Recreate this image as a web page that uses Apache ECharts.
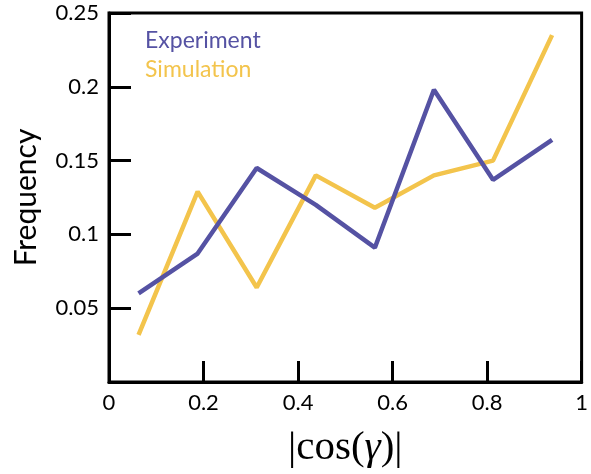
<!DOCTYPE html>
<html>
<head>
<meta charset="utf-8">
<script src="https://cdn.jsdelivr.net/npm/echarts@6/dist/echarts.min.js"></script>
<style>
  html, body { margin: 0; padding: 0; background: #fff; }
  #chart { width: 591px; height: 474px; }
</style>
</head>
<body>
<div id="chart"></div>
<script>
// bin centres of |cos(gamma)|
var binCenters = [0.0625, 0.1875, 0.3125, 0.4375, 0.5625, 0.6875, 0.8125, 0.9375];
var experiment = [0.060, 0.087, 0.145, 0.120, 0.091, 0.198, 0.137, 0.164];
var simulation = [0.032, 0.129, 0.064, 0.140, 0.118, 0.140, 0.150, 0.235];

var blue = '#5552a3';
var yellow = '#f3c44c';

function pairs(ys) {
  return binCenters.map(function (x, i) {
    return [x, ys[i]];
  });
}

var chart = echarts.init(document.getElementById('chart'));
var option = {
  backgroundColor: '#fff',
  animation: false,
  grid: {
    left: 109,
    right: 5,
    top: 13,
    bottom: 87,
    show: true,
    borderColor: '#000',
    borderWidth: 3
  },
  legend: {
    orient: 'vertical',
    left: 140,
    top: 29,
    padding: 0,
    itemGap: 6,
    itemWidth: 0,
    itemHeight: 0,
    icon: 'none',
    textStyle: { fontFamily: 'Lato', fontSize: 23 },
    data: [
      { name: 'Experiment', textStyle: { color: blue } },
      { name: 'Simulation', textStyle: { color: yellow } }
    ]
  },
  xAxis: {
    type: 'value',
    min: 0,
    max: 1,
    interval: 0.2,
    name: '|cos({i|γ})|',
    nameLocation: 'middle',
    nameGap: 46,
    nameTextStyle: {
      fontFamily: 'Liberation Serif',
      fontSize: 41,
      color: '#000',
      rich: {
        i: { fontFamily: 'Liberation Serif', fontStyle: 'italic', fontSize: 41, color: '#000' }
      }
    },
    splitLine: { show: false },
    axisLine: { lineStyle: { color: '#000', width: 3 } },
    axisTick: { inside: true, length: 21, lineStyle: { color: '#000', width: 3 } },
    axisLabel: {
      margin: 10,
      color: '#000',
      fontFamily: 'Lato',
      fontSize: 22,
      formatter: function (v) { return String(+v.toFixed(1)); }
    }
  },
  yAxis: {
    type: 'value',
    min: 0,
    max: 0.25,
    interval: 0.05,
    name: 'Frequency',
    nameLocation: 'middle',
    nameGap: 68,
    nameTextStyle: { fontFamily: 'Lato', fontSize: 30, color: '#000' },
    splitLine: { show: false },
    axisLine: { lineStyle: { color: '#000', width: 3 } },
    axisTick: { inside: true, length: 22, lineStyle: { color: '#000', width: 3 } },
    axisLabel: {
      margin: 10,
      showMinLabel: false,
      color: '#000',
      fontFamily: 'Lato',
      fontSize: 22,
      formatter: function (v) { return String(+v.toFixed(2)); }
    }
  },
  series: [
    {
      name: 'Simulation',
      type: 'line',
      data: pairs(simulation),
      showSymbol: false,
      symbol: 'none',
      color: yellow,
      lineStyle: { color: yellow, width: 4.5 }
    },
    {
      name: 'Experiment',
      type: 'line',
      data: pairs(experiment),
      showSymbol: false,
      symbol: 'none',
      color: blue,
      lineStyle: { color: blue, width: 4.5 }
    }
  ]
};
chart.setOption(option);
</script>
</body>
</html>
